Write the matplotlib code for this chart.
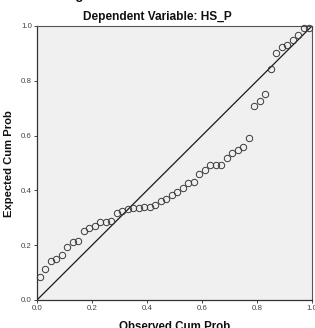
import matplotlib
matplotlib.use("Agg")
import matplotlib.pyplot as plt
import numpy as np

# Data
observed_cum_prob = [0.01, 0.03, 0.05, 0.07, 0.09, 0.11, 0.13, 0.15, 0.17, 0.19,
                     0.21, 0.23, 0.25, 0.27, 0.29, 0.31, 0.33, 0.35, 0.37, 0.39,
                     0.41, 0.43, 0.45, 0.47, 0.49, 0.51, 0.53, 0.55, 0.57, 0.59,
                     0.61, 0.63, 0.65, 0.67, 0.69, 0.71, 0.73, 0.75, 0.77, 0.79,
                     0.81, 0.83, 0.85, 0.87, 0.89, 0.91, 0.93, 0.95, 0.97, 0.99]
expected_cum_prob = [0.085, 0.114, 0.142, 0.148, 0.166, 0.194, 0.211, 0.216, 0.252, 0.264,
                     0.270, 0.285, 0.286, 0.288, 0.319, 0.325, 0.333, 0.334, 0.336, 0.339,
                     0.339, 0.348, 0.361, 0.368, 0.384, 0.393, 0.410, 0.427, 0.430, 0.461,
                     0.474, 0.491, 0.493, 0.493, 0.519, 0.535, 0.548, 0.560, 0.590, 0.709,
                     0.725, 0.752, 0.843, 0.903, 0.925, 0.929, 0.948, 0.967, 0.994, 0.994]
ref_line = [0.0, 1.0]
ticks = [0.0, 0.2, 0.4, 0.6, 0.8, 1.0]
tick_labels = ["0.0", "0.2", "0.4", "0.6", "0.8", "1.0"]

plt.rcParams['font.family'] = ['Liberation Sans', 'DejaVu Sans']

W, H = 315, 328
fig = plt.figure(figsize=(W / 100, H / 100), dpi=100)
fig.patch.set_facecolor("white")

left, right, top, bottom = 37, 312, 26, 300
ax = fig.add_axes([left / W, 1 - bottom / H, (right - left) / W, (bottom - top) / H])
ax.set_facecolor("#f0f0f0")

ax.plot(ref_line, ref_line, color="#1a1a1a", lw=0.9, zorder=2)
ax.plot(observed_cum_prob, expected_cum_prob, linestyle="none", marker="o",
        markersize=4.6, markerfacecolor="none", markeredgecolor="#3a3a3a",
        markeredgewidth=0.7, zorder=3, clip_on=False)

ax.set_xlim(0, 1)
ax.set_ylim(0, 1)
ax.set_xticks(ticks)
ax.set_yticks(ticks)
ax.set_xticklabels(tick_labels)
ax.set_yticklabels(tick_labels)
ax.tick_params(direction="out", length=2.5, width=0.7, colors="#444444",
               labelsize=5.7, pad=1.2, labelcolor="#444444")
for side in ["left", "bottom"]:
    ax.spines[side].set_color("#333333")
    ax.spines[side].set_linewidth(0.9)
for side in ["top", "right"]:
    ax.spines[side].set_color("#555555")
    ax.spines[side].set_linewidth(0.8)

fig.text(0.5, 1 - 17 / H, "Dependent Variable: HS_P", ha="center", va="center",
         fontsize=8.6, fontweight="bold", color="#111111")
fig.text(0.34, 1 + 1.0 / H, "Normal P-P Plot of Regression Standardized Residual",
         ha="center", va="baseline", fontsize=9.5, fontweight="bold", color="#111111")
fig.text((left + right) / 2 / W, 1 - 321.5 / H, "Observed Cum Prob", ha="center", va="top",
         fontsize=8.3, fontweight="bold", color="#111111")
fig.text(9 / W, 1 - 164 / H, "Expected Cum Prob", ha="center", va="center",
         rotation=90, fontsize=8.1, fontweight="bold", color="#111111")

fig.savefig("out.png", dpi=100, facecolor="white")
